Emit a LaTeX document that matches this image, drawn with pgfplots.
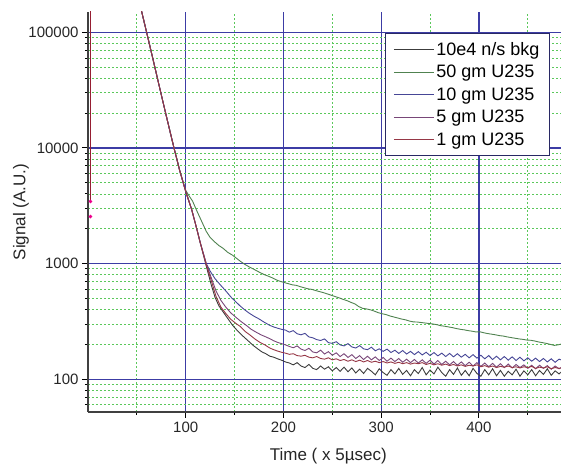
\documentclass[border=0pt]{standalone}
\usepackage{fontspec}
\setmainfont{Liberation Sans}
\usepackage{pgfplots}
\pgfplotsset{compat=1.18}
\definecolor{gridblue}{RGB}{60,60,165}
\definecolor{gridgreen}{RGB}{90,200,90}
\definecolor{legframe}{RGB}{40,40,100}
\definecolor{cbkg}{RGB}{60,60,60}
\definecolor{cgreen}{RGB}{80,130,80}
\definecolor{cblue}{RGB}{70,70,150}
\definecolor{cpurple}{RGB}{120,70,120}
\definecolor{cred}{RGB}{150,55,70}
\definecolor{cmaroon}{RGB}{150,30,50}
\begin{document}
\begin{tikzpicture}
\useasboundingbox (-88pt,-54pt) rectangle (473pt,412pt);
\begin{axis}[
  at={(0,0)}, anchor=south west,
  scale only axis, width=473pt, height=400pt,
  ymode=log, xmin=0, xmax=484, ymin=52, ymax=150000,
  axis lines=left, axis line style={-, line width=1.3pt, draw=black!75},
  tick align=outside, major tick length=6pt, minor tick length=3pt,
  every tick/.style={line width=1pt, draw=black},
  xtick={100,200,300,400}, xticklabels={100,200,300,400},
  minor xtick={50,150,250,350,450},
  ytick={100,1000,10000,100000}, yticklabels={100,1000,10000,100000},
  minor ytick={60,70,80,90,200,300,400,500,600,700,800,900,2000,3000,4000,5000,6000,7000,8000,9000,20000,30000,40000,50000,60000,70000,80000,90000},
  xmajorgrids, ymajorgrids, xminorgrids, yminorgrids,
  every major grid/.style={draw=gridblue, line width=1.2pt, solid},
  every minor grid/.style={draw=gridgreen, line width=0.8pt, dash pattern=on 2pt off 2pt},
  ticklabel style={font=\fontsize{15}{17}\selectfont, black!85},
  xlabel={Time ( x 5µsec)}, ylabel={Signal (A.U.)},
  label style={font=\fontsize{17}{19}\selectfont, black!85},
  xlabel style={at={(axis description cs:0.508,0)}, anchor=center, yshift=-44pt},
  ylabel style={at={(axis description cs:0,0.5)}, anchor=center, yshift=67pt},
  legend style={at={(0.977,0.9475)}, anchor=north east, draw=legframe, line width=1.3pt,
    fill=white, font=\fontsize{18}{21}\selectfont, row sep=4.5pt, inner xsep=8pt, inner ysep=6.5pt},
  legend cell align=left,
  legend image code/.code={\draw[#1, line width=1pt] (0pt,0pt) -- (40pt,0pt);},
  every axis plot/.append style={line width=0.9pt},
  clip=true,
]
% 10e4 n/s bkg
\addplot[cbkg] coordinates {
(53,175000)(55,150000)(60,100000)(66,61000)(72,37000)(78,22500)(84,13800)(88,10000)(94,6300)(100,4200)(106,2950)(110,2200)(115,1500)
(121,950)(126,660)(130,510)(134,430)(138,385)(143,335)(148,292)(153,262)(158,238)(163,218)(169,196)(174,182)(178,172)(182,166)(186,158)(190,155)(194,150)(198,146)(202,141)(206,138)(210,133)(214,139)(218,130)(222,126)(226,134)(230,124)(234,121)(238,130)(242,122)(246,128)(250,118)(254,126)(258,117)(262,127)(266,116)(270,125)(274,113)(278,122)(282,112)(286,124)(290,117)(294,109)(298,123)(302,114)(306,108)(310,121)(314,111)(318,124)(322,110)(326,119)(330,107)(334,121)(338,112)(342,126)(346,109)(350,120)(354,111)(358,127)(362,114)(366,106)(370,121)(374,110)(378,125)(382,108)(386,119)(390,107)(394,124)(398,112)(402,106)(406,121)(410,109)(414,123)(418,107)(422,119)(426,106)(430,117)(434,109)(438,122)(442,106)(446,118)(450,109)(454,121)(458,107)(462,119)(466,110)(470,123)(474,108)(478,118)(482,111)(486,119)
};
\addlegendentry{10e4 n/s bkg}
% 50 gm
\addplot[cgreen] coordinates {
(53,175000)(55,150000)(60,100000)(66,61000)(72,37000)(78,22500)(84,13800)(88,10000)(94,6300)(100,4300)(103,3900)(107,3470)(111,2900)(115,2450)(121,1900)(125,1680)(130,1530)(134,1430)(138,1360)(143,1250)(148,1180)(152,1110)(156,1045)(160,990)(165,935)(170,890)(175,845)(180,805)(185,775)(189,750)(193,720)(197,700)(201,685)(205,670)(209,655)(213,648)(217,632)(221,618)(225,605)(229,598)(233,584)(237,572)(241,560)(245,546)(249,532)(253,518)(257,505)(261,490)(265,478)(269,462)(273,448)(277,425)(281,410)(285,405)(289,398)(293,388)(297,376)(301,368)(305,362)(309,352)(313,345)(317,338)(321,331)(325,326)(329,318)(333,313)(337,312)(341,309)(345,306)(349,303)(353,300)(357,296)(361,290)(365,287)(369,283)(373,279)(377,274)(381,270)(385,267)(389,263)(393,260)(397,256)(401,257)(405,252)(409,248)(413,245)(417,242)(421,238)(425,236)(429,232)(433,229)(437,226)(441,223)(445,221)(449,218)(453,217)(457,214)(461,210)(465,207)(469,204)(473,200)(477,196)(481,198)(486,203)
};
\addlegendentry{50 gm U235}
% 10 gm
\addplot[cblue] coordinates {
(53,175000)(55,150000)(60,100000)(66,61000)(72,37000)(78,22500)(84,13800)(88,10000)(94,6300)(100,4200)(106,2950)(110,2200)(115,1500)
(121,1000)(125,860)(130,740)(135,660)(141,580)(147,505)(151,470)(155,435)(160,400)(165,372)(170,350)(175,332)(180,312)(186,292)(190,283)(194,276)(198,270)(202,266)(206,255)(210,263)(214,247)(218,242)(222,249)(226,232)(230,228)(234,220)(238,216)(242,223)(246,207)(250,204)(254,211)(258,198)(262,194)(266,203)(270,190)(274,186)(278,195)(282,183)(286,180)(290,189)(294,176)(298,183)(302,174)(306,182)(310,170)(314,178)(318,167)(322,177)(326,165)(330,174)(334,163)(338,173)(342,162)(346,171)(350,160)(354,170)(358,159)(362,168)(366,157)(370,167)(374,156)(378,166)(382,155)(386,164)(390,153)(394,163)(398,152)(402,161)(406,150)(410,160)(414,148)(418,158)(422,147)(426,157)(430,146)(434,156)(438,145)(442,155)(446,144)(450,153)(454,143)(458,152)(462,142)(466,151)(470,141)(474,150)(478,140)(482,149)(486,145)
};
\addlegendentry{10 gm U235}
% 5 gm
\addplot[cpurple] coordinates {
(53,175000)(55,150000)(60,100000)(66,61000)(72,37000)(78,22500)(84,13800)(88,10000)(94,6300)(100,4200)(106,2950)(110,2200)(115,1500)
(121,1000)(126,760)(131,580)(136,480)(141,420)(146,375)(151,345)(156,318)(162,292)(167,270)(172,255)(177,242)(182,232)(186,224)(190,215)(194,208)(198,203)(202,198)(206,192)(210,187)(214,194)(218,182)(222,177)(226,185)(230,172)(234,169)(238,178)(242,165)(246,173)(250,161)(254,169)(258,157)(262,166)(266,154)(270,163)(274,151)(278,160)(282,148)(286,158)(290,147)(294,156)(298,145)(302,154)(306,143)(310,152)(314,142)(318,151)(322,140)(326,149)(330,139)(334,148)(338,138)(342,147)(346,137)(350,146)(354,135)(358,145)(362,134)(366,143)(370,133)(374,142)(378,132)(382,141)(386,131)(390,140)(394,130)(398,139)(402,129)(406,138)(410,128)(414,137)(418,127)(422,136)(426,126)(430,135)(434,125)(438,134)(442,126)(446,133)(450,124)(454,132)(458,123)(462,132)(466,124)(470,131)(474,122)(478,130)(482,123)(486,129)
};
\addlegendentry{5 gm U235}
% 1 gm
\addplot[cred] coordinates {
(53,175000)(55,150000)(60,100000)(66,61000)(72,37000)(78,22500)(84,13800)(88,10000)(94,6300)(100,4200)(106,2950)(110,2200)(115,1500)
(121,980)(126,720)(131,520)(136,420)(141,370)(146,330)(151,305)(156,285)(161,258)(166,240)(171,222)(176,208)(181,198)(186,186)(190,180)(194,175)(198,171)(202,168)(206,164)(210,166)(214,160)(218,158)(222,161)(226,155)(230,153)(234,157)(238,151)(242,149)(246,153)(250,147)(254,150)(258,145)(262,148)(266,143)(270,147)(274,142)(278,146)(282,141)(286,145)(290,140)(294,143)(298,139)(302,142)(306,138)(310,141)(314,137)(318,140)(322,136)(326,139)(330,135)(334,138)(338,136)(342,139)(346,134)(350,137)(354,133)(358,136)(362,132)(366,135)(370,131)(374,134)(378,130)(382,133)(386,129)(390,132)(394,130)(398,133)(402,128)(406,131)(410,127)(414,130)(418,126)(422,129)(426,127)(430,130)(434,126)(438,128)(442,125)(446,128)(450,126)(454,129)(458,124)(462,127)(466,125)(470,128)(474,123)(478,126)(482,124)(486,126)
};
\addlegendentry{1 gm U235}
% initial spike near t = 0
\addplot[cmaroon, line width=1.5pt, forget plot] coordinates {(2.5,200000)(2.5,3400)};
\addplot[only marks, magenta, mark=*, mark size=1.3pt, forget plot] coordinates {(2.5,3450)(2.5,2550)};
\end{axis}
\end{tikzpicture}
\end{document}
